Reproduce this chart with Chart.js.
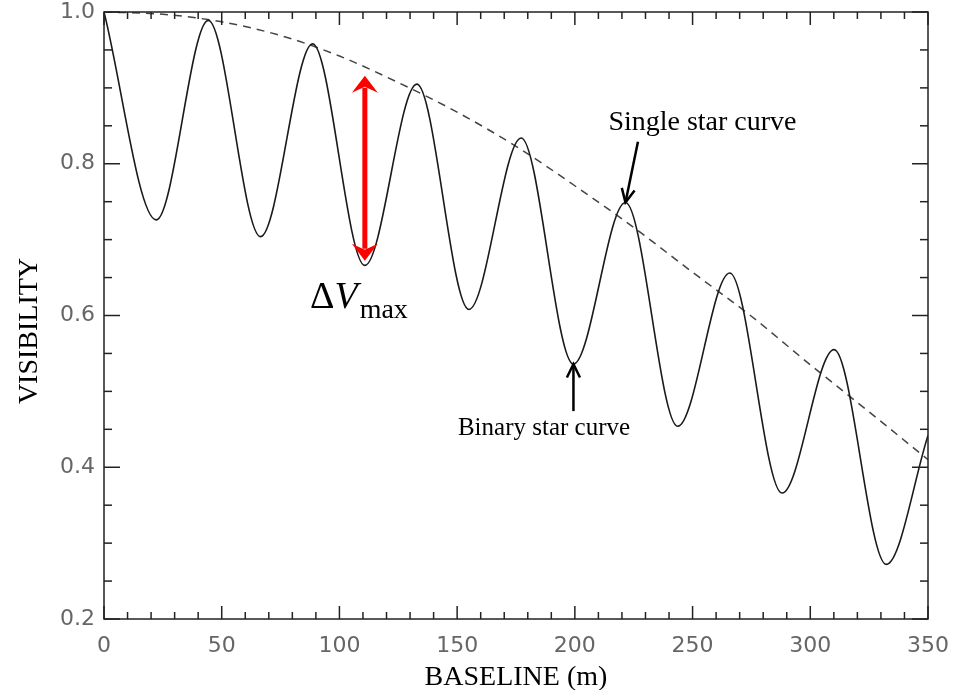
<!DOCTYPE html>
<html>
<head>
<meta charset="utf-8">
<script src="https://cdn.jsdelivr.net/npm/chart.js@4.4.0/dist/chart.umd.min.js"></script>
<style>
  html, body { margin: 0; padding: 0; background: #fff; }
  #wrap { width: 961px; height: 690px; }
</style>
</head>
<body>
<div id="wrap"><canvas id="myChart"></canvas></div>
<script>
// binary star curve: maxima / minima
const baselineBinary = [0, 22.2, 44.3, 66.5, 88.6, 110.8, 132.9, 155, 177.2, 199.4, 221.5, 243.7, 265.8, 288, 310.1, 332.3, 350];
const visBinary = [1.0, 0.726, 0.989, 0.704, 0.958, 0.666, 0.905, 0.608, 0.834, 0.536, 0.749, 0.454, 0.656, 0.366, 0.555, 0.272, 0.442];

// single star curve (dashed)
const baselineSingle = [0, 25, 50, 75, 100, 125, 150, 175, 200, 225, 250, 275, 300, 325, 350];
const visSingle = [1.0, 0.997, 0.987, 0.969, 0.942, 0.907, 0.868, 0.823, 0.771, 0.716, 0.657, 0.599, 0.535, 0.473, 0.41];

const xTickLabels = [0, 50, 100, 150, 200, 250, 300, 350];
const yTickLabels = [0.2, 0.4, 0.6, 0.8, 1.0];

// annotations, in data units
const deltaArrow = { x: 110.8, from: 0.672, to: 0.916 };
const singleNote = { text: 'Single star curve', x: 254.2, y: 0.845, tipX: 221.5, tipY: 0.749, tailX: 226.8, tailY: 0.829 };
const binaryNote = { text: 'Binary star curve', x: 186.9, y: 0.443, tipX: 199.4, tipY: 0.536, tailX: 199.4, tailY: 0.474 };
const deltaLabel = { x: 87.5, y: 0.6105 };

const ctx = document.getElementById('myChart');

function line(c, x1, y1, x2, y2) {
  c.beginPath();
  c.moveTo(x1, y1);
  c.lineTo(x2, y2);
  c.stroke();
}

function openArrow(c, x1, y1, x2, y2) {
  line(c, x1, y1, x2, y2);
  const ang = Math.atan2(y2 - y1, x2 - x1);
  const len = 15, spread = 0.45;
  c.beginPath();
  c.moveTo(x2 - len * Math.cos(ang - spread), y2 - len * Math.sin(ang - spread));
  c.lineTo(x2, y2);
  c.lineTo(x2 - len * Math.cos(ang + spread), y2 - len * Math.sin(ang + spread));
  c.stroke();
}

function redHead(c, x, y, dir) {
  // dir = -1 points up, 1 points down
  c.beginPath();
  c.moveTo(x, y);
  c.lineTo(x - 13, y - dir * 17);
  c.lineTo(x, y - dir * 11);
  c.lineTo(x + 13, y - dir * 17);
  c.closePath();
  c.fill();
}

const framePlugin = {
  id: 'frame',
  afterDraw(chart) {
    const c = chart.ctx;
    const a = chart.chartArea;
    const xs = chart.scales.x, ys = chart.scales.y;
    c.save();
    c.strokeStyle = '#222';
    c.lineWidth = 1.5;
    c.strokeRect(a.left, a.top, a.right - a.left, a.bottom - a.top);

    xs.ticks.forEach(t => {
      const px = xs.getPixelForValue(t.value);
      const len = xTickLabels.includes(Math.round(t.value)) ? 13 : 7;
      line(c, px, a.bottom, px, a.bottom - len);
      line(c, px, a.top, px, a.top + len);
    });
    const majY = yTickLabels.map(v => Math.round(v * 100));
    ys.ticks.forEach(t => {
      const py = ys.getPixelForValue(t.value);
      const len = majY.includes(Math.round(t.value * 100)) ? 16 : 8;
      line(c, a.left, py, a.left + len, py);
      line(c, a.right, py, a.right - len, py);
    });

    // axis titles
    c.fillStyle = '#000';
    c.font = '28px "Liberation Serif", "Times New Roman", serif';
    c.textAlign = 'center';
    c.textBaseline = 'alphabetic';
    c.fillText('BASELINE (m)', (a.left + a.right) / 2, 685);
    c.save();
    c.translate(37, 331);
    c.rotate(-Math.PI / 2);
    c.fillText('VISIBILITY', 0, 0);
    c.restore();

    // red double arrow
    const ax = xs.getPixelForValue(deltaArrow.x);
    const y1 = ys.getPixelForValue(deltaArrow.from);
    const y2 = ys.getPixelForValue(deltaArrow.to);
    c.strokeStyle = '#ff0000';
    c.fillStyle = '#ff0000';
    c.lineWidth = 5;
    line(c, ax, y1 - 12, ax, y2 + 12);
    redHead(c, ax, y2, -1);
    redHead(c, ax, y1, 1);

    // delta V max label
    let lx = xs.getPixelForValue(deltaLabel.x);
    const ly = ys.getPixelForValue(deltaLabel.y);
    c.fillStyle = '#000';
    c.textAlign = 'left';
    c.font = '38px "Liberation Serif", serif';
    c.fillText('\u0394', lx, ly);
    lx += c.measureText('\u0394').width;
    c.font = 'italic 38px "Liberation Serif", serif';
    c.fillText('V', lx, ly);
    lx += c.measureText('V').width + 2;
    c.font = '28px "Liberation Serif", serif';
    c.fillText('max', lx, ly + 10);

    // notes with arrows
    c.strokeStyle = '#000';
    c.lineWidth = 2.5;
    [singleNote, binaryNote].forEach((n, i) => {
      c.font = (i === 0 ? '28px' : '25px') + ' "Liberation Serif", serif';
      c.textAlign = 'center';
      c.fillText(n.text, xs.getPixelForValue(n.x), ys.getPixelForValue(n.y));
      openArrow(c, xs.getPixelForValue(n.tailX), ys.getPixelForValue(n.tailY),
        xs.getPixelForValue(n.tipX), ys.getPixelForValue(n.tipY));
    });
    c.restore();
  }
};

new Chart(ctx, {
  type: 'line',
  data: {
    datasets: [{
      label: 'Binary star curve',
      data: baselineBinary.map((b, i) => ({ x: b, y: visBinary[i] })),
      borderColor: '#1a1a1a',
      borderWidth: 1.6,
      pointRadius: 0,
      cubicInterpolationMode: 'monotone',
      fill: false
    }, {
      label: 'Single star curve',
      data: baselineSingle.map((b, i) => ({ x: b, y: visSingle[i] })),
      borderColor: '#444',
      borderWidth: 1.5,
      borderDash: [8, 6],
      pointRadius: 0,
      cubicInterpolationMode: 'monotone',
      fill: false
    }]
  },
  options: {
    responsive: true,
    maintainAspectRatio: false,
    devicePixelRatio: 1,
    animation: false,
    layout: { padding: { left: 0, top: 12, right: 33, bottom: 0 } },
    plugins: {
      legend: { display: false },
      title: { display: false },
      tooltip: { enabled: false }
    },
    scales: {
      x: {
        type: 'linear',
        min: 0,
        max: 350,
        grid: { display: false, drawTicks: false },
        border: { display: false },
        ticks: {
          stepSize: 10,
          autoSkip: false,
          maxRotation: 0,
          padding: 14,
          color: '#666',
          font: { family: '"DejaVu Sans"', size: 22 },
          callback: v => xTickLabels.includes(v) ? String(v) : ''
        },
        afterFit(scale) {
          scale.height = 71;
          scale.paddingLeft = 0;
          scale.paddingRight = 0;
        }
      },
      y: {
        min: 0.2,
        max: 1.0,
        grid: { display: false, drawTicks: false },
        border: { display: false },
        ticks: {
          stepSize: 0.05,
          autoSkip: false,
          padding: 9,
          color: '#666',
          font: { family: '"DejaVu Sans"', size: 22 },
          callback: v => yTickLabels.map(t => Math.round(t * 100)).includes(Math.round(v * 100)) ? v.toFixed(1) : ''
        },
        afterFit(scale) {
          scale.width = 104;
          scale.paddingTop = 0;
          scale.paddingBottom = 0;
        }
      }
    }
  },
  plugins: [framePlugin]
});
</script>
</body>
</html>
